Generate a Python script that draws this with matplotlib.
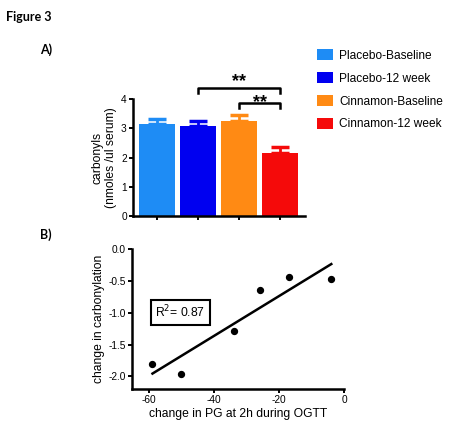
import numpy as np
import matplotlib
matplotlib.use("Agg")
import matplotlib.pyplot as plt
from matplotlib.patches import Patch

plt.rcParams['font.family'] = ['Liberation Sans', 'DejaVu Sans']

# panel A: serum carbonyls, mean +/- SEM
groups = ['Placebo-Baseline', 'Placebo-12 week', 'Cinnamon-Baseline', 'Cinnamon-12 week']
means = [3.13, 3.08, 3.25, 2.14]
sem = [0.19, 0.18, 0.20, 0.23]
colors = ['#1E8CF5', '#0000F0', '#FF8A14', '#F50A0A']
sig_pairs = [(1, 3, '**'), (2, 3, '**')]

# panel B: change in PG vs change in carbonylation
pg_change = [-58.8, -49.9, -33.8, -25.9, -16.8, -3.9]
carb_change = [-1.81, -1.97, -1.29, -0.64, -0.43, -0.46]
r2_text = '0.87'

W, H = 454, 430
fig = plt.figure(figsize=(W / 100, H / 100), dpi=100)

def style(ax):
    for s in ['top', 'right']:
        ax.spines[s].set_visible(False)
    for s in ['left', 'bottom']:
        ax.spines[s].set_linewidth(1.8)
    ax.tick_params(direction='out', length=3, width=1.4, labelsize=7.3, pad=1.5)

# ---- A ----
ax1 = fig.add_axes([133 / W, 1 - 216 / H, 172 / W, 117 / H])
x = np.arange(len(groups))
for i in range(len(groups)):
    ax1.errorbar(x[i], means[i], yerr=[[0], [sem[i]]], fmt='none', ecolor=colors[i],
                 elinewidth=2, capsize=6.5, capthick=2.5, zorder=1)
ax1.bar(x, means, width=0.88, color=colors, zorder=2)
ax1.set_xlim(-0.59, 3.6)
ax1.set_ylim(0, 4)
ax1.set_yticks([0, 1, 2, 3, 4])
ax1.set_xticks(x)
ax1.set_xticklabels([])
style(ax1)
ax1.set_ylabel('carbonyls\n(nmoles /ul serum)', fontsize=8.7, labelpad=3, linespacing=1.1)

# brackets and stars (star y is the text baseline)
bracket_y = [4.39, 3.87]
star_y = [4.44, 3.73]
for (a, b, lab), by, sy in zip(sig_pairs, bracket_y, star_y):
    ax1.plot([a, a, b, b], [by - 0.19, by, by, by - 0.19], color='black', lw=1.8, clip_on=False)
    ax1.text((a + b) / 2, sy, lab, ha='center', va='baseline', fontsize=13, fontweight='bold', clip_on=False)

handles = [Patch(facecolor=c, edgecolor='none') for c in colors]
fig.legend(handles, groups, loc='upper left', bbox_to_anchor=(317 / W, 1 - 49 / H),
           frameon=False, fontsize=8.6, handlelength=1.34, handleheight=1.09,
           handletextpad=0.5, labelspacing=0.85, borderpad=0, borderaxespad=0)

# ---- B ----
ax2 = fig.add_axes([132.3 / W, 1 - 389 / H, 211.7 / W, 139.7 / H])
ax2.scatter(pg_change, carb_change, s=18, color='black', zorder=3)
slope, icpt = np.polyfit(pg_change, carb_change, 1)
xf = np.array([min(pg_change), max(pg_change)])
ax2.plot(xf, slope * xf + icpt, color='black', lw=1.8)
ax2.set_xlim(-65, 0)
ax2.set_ylim(-2.2, 0)
ax2.set_xticks([-60, -40, -20, 0])
ax2.set_yticks([0, -0.5, -1.0, -1.5, -2.0])
ax2.set_yticklabels(['0.0', '-0.5', '-1.0', '-1.5', '-2.0'])
ax2.set_xticklabels(['-60', '-40', '-20', '0'])
style(ax2)
ax2.set_xlabel('change in PG at 2h during OGTT', fontsize=8.7, labelpad=2)
ax2.set_ylabel('change in carbonylation', fontsize=8.7, labelpad=3)
ax2.text(-50.2, -0.99, 'R$^2$= ' + r2_text, ha='center', va='center', fontsize=8.7,
         bbox=dict(boxstyle='square,pad=0.35', facecolor='white', edgecolor='black', lw=1.5))

fig.text(6 / W, 1 - 17 / H, 'Figure 3', fontsize=9, fontweight='bold', family='Lato', va='center')
fig.text(40 / W, 1 - 50 / H, 'A)', fontsize=9, fontweight='bold', family='Lato', va='center')
fig.text(40 / W, 1 - 235 / H, 'B)', fontsize=9, fontweight='bold', family='Lato', va='center')

fig.savefig('out.png', dpi=100)
